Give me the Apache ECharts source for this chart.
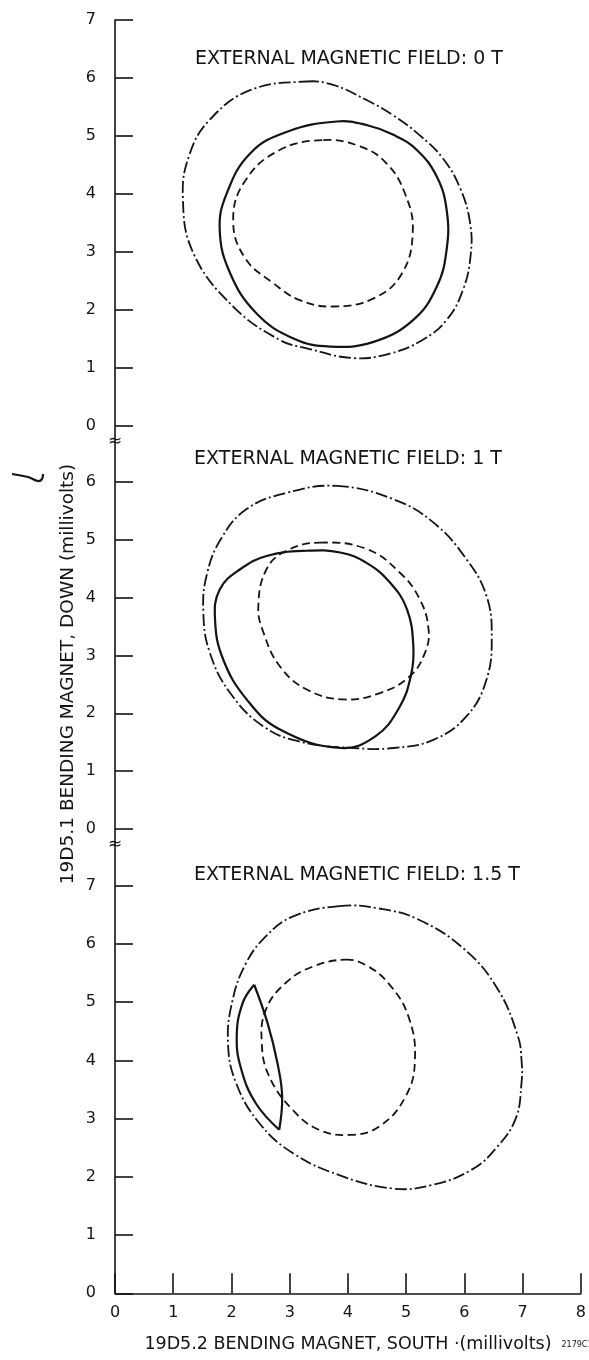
<!DOCTYPE html>
<html>
<head>
<meta charset="utf-8">
<script src="https://cdn.jsdelivr.net/npm/echarts@6/dist/echarts.min.js"></script>
<style>html,body{margin:0;padding:0;background:#fff}#c{width:589px;height:1360px}</style>
</head>
<body>
<div id="c"></div>
<script>
// ---- data (millivolts) ----
const xTicks = [0,1,2,3,4,5,6,7,8];
const yTicks7 = [0,1,2,3,4,5,6,7];
const yTicks6 = [0,1,2,3,4,5,6];
const panelTitles = ['EXTERNAL MAGNETIC FIELD: 0 T','EXTERNAL MAGNETIC FIELD: 1 T','EXTERNAL MAGNETIC FIELD: 1.5 T'];

// 0 T  (closed loops)
const field0DashDot = [[3.28,5.94],[3.73,5.88],[4.30,5.62],[4.75,5.36],[5.20,5.02],[5.60,4.62],[5.90,4.10],[6.07,3.50],[6.08,2.95],[5.95,2.35],[5.67,1.83],[5.25,1.48],[4.70,1.25],[4.07,1.17],[3.28,1.34],[2.82,1.48],[2.02,2.06],[1.34,2.98],[1.16,3.95],[1.28,4.70],[1.62,5.28],[2.31,5.79]];
const field0Solid = [[3.79,5.25],[4.30,5.19],[4.76,5.02],[5.16,4.76],[5.50,4.30],[5.67,3.72],[5.67,3.05],[5.50,2.40],[5.10,1.83],[4.42,1.45],[3.68,1.37],[3.05,1.51],[2.42,1.94],[1.97,2.63],[1.79,3.38],[1.91,4.01],[2.31,4.70],[2.93,5.07]];
const field0Dashed = [[3.56,4.93],[4.19,4.82],[4.64,4.53],[4.96,4.00],[5.09,3.35],[4.90,2.62],[4.42,2.20],[3.73,2.06],[3.16,2.17],[2.71,2.46],[2.22,2.90],[2.02,3.55],[2.22,4.22],[2.80,4.75]];

// 1 T
const field1DashDot = [[3.79,5.93],[4.76,5.70],[5.44,5.30],[6.01,4.66],[6.35,4.03],[6.44,3.33],[6.35,2.58],[6.01,1.95],[5.44,1.54],[4.76,1.40],[4.07,1.40],[3.16,1.51],[2.54,1.77],[1.97,2.35],[1.62,3.05],[1.51,3.74],[1.57,4.40],[1.82,5.03],[2.25,5.53],[2.93,5.81]];
const field1Solid = [[3.28,4.81],[3.85,4.78],[4.30,4.60],[4.70,4.26],[4.99,3.80],[5.10,3.16],[5.06,2.66],[4.86,2.10],[4.45,1.60],[3.85,1.40],[2.82,1.72],[2.25,2.24],[1.85,2.93],[1.71,3.62],[1.79,4.14],[2.14,4.49],[2.59,4.72]];
const field1Dashed = [[3.50,4.95],[4.30,4.84],[4.87,4.43],[5.21,3.97],[5.36,3.45],[5.30,3.05],[5.04,2.64],[4.53,2.35],[3.90,2.24],[3.28,2.41],[2.82,2.81],[2.54,3.39],[2.45,3.85],[2.59,4.49],[2.93,4.81]];

// 1.5 T
const field15DashDot = [[3.85,6.65],[4.53,6.61],[5.21,6.42],[6.01,5.90],[6.58,5.21],[6.92,4.41],[6.98,4.01],[6.98,3.61],[6.88,3.00],[6.55,2.50],[6.12,2.12],[5.44,1.86],[4.76,1.80],[3.85,2.03],[3.05,2.41],[2.48,2.92],[2.08,3.61],[1.94,4.30],[2.02,5.04],[2.25,5.67],[2.59,6.13],[3.05,6.47]];
const field15SolidLeft = [[2.39,5.30],[2.19,4.98],[2.09,4.41],[2.17,3.84],[2.42,3.26],[2.82,2.81]];
const field15SolidRight = [[2.82,2.81],[2.87,3.38],[2.79,3.95],[2.62,4.64],[2.39,5.30]];
const field15Dashed = [[3.96,5.73],[4.30,5.64],[4.70,5.32],[5.04,4.75],[5.15,4.01],[4.99,3.38],[4.53,2.86],[4.02,2.72],[3.50,2.81],[3.05,3.15],[2.65,3.72],[2.52,4.30],[2.59,4.87],[2.93,5.33],[3.39,5.61]];

// ---- chart ----
const INK = '#141414';
const FONT = 'DejaVu Sans';
const dashDot = [12,3,2,3];
const dashed = [8,4.5];

function yAxis(gi, min, max, ticks){
  return {
    type:'value', gridIndex:gi, min:min, max:max,
    axisLine:{show:true, lineStyle:{color:INK, width:1.6}},
    axisTick:{show:true, inside:true, length:18, customValues:ticks, lineStyle:{color:INK, width:1.6}},
    axisLabel:{show:true, customValues:ticks, margin:19, color:INK, fontFamily:FONT, fontSize:16},
    splitLine:{show:false}
  };
}
function xAxis(gi, show){
  return {
    type:'value', gridIndex:gi, min:0, max:8, interval:1, show:show,
    axisLine:{show:true, onZero:false, lineStyle:{color:INK, width:1.6}},
    axisTick:{show:true, inside:true, length:20, lineStyle:{color:INK, width:1.6}},
    axisLabel:{show:true, margin:12, color:INK, fontFamily:FONT, fontSize:16},
    splitLine:{show:false},
    name:'19D5.2 BENDING MAGNET, SOUTH ·(millivolts)',
    nameLocation:'middle', nameGap:42,
    nameTextStyle:{color:INK, fontFamily:FONT, fontSize:17.5}
  };
}
// curve through the points, drawn with the axes' coordinate transform
function loop(name, gi, pts, dash, width, closed){
  return {
    name:name, type:'custom', coordinateSystem:'cartesian2d',
    xAxisIndex:gi, yAxisIndex:gi, silent:true, data:pts,
    renderItem:function(params, api){
      if (params.dataIndex !== 0) return null;
      const points = pts.map(function(p){ return api.coord(p); });
      return {
        type: closed ? 'polygon' : 'polyline',
        shape:{points:points, smooth:0.42},
        style:{stroke:INK, lineWidth:width, fill:'none', lineDash:dash}
      };
    }
  };
}

const chart = echarts.init(document.getElementById('c'), null, {renderer:'canvas'});
const titleStyle = {color:INK, fontFamily:FONT, fontSize:19, fontWeight:'normal'};
chart.setOption({
  backgroundColor:'#fff',
  animation:false,
  title:[
    {text:panelTitles[0], left:344, top:45, textAlign:'center', textStyle:titleStyle},
    {text:panelTitles[1], left:343, top:445, textAlign:'center', textStyle:titleStyle},
    {text:panelTitles[2], left:352, top:861, textAlign:'center', textStyle:titleStyle}
  ],
  grid:[
    {left:115, right:6, top:20, height:422},
    {left:115, right:6, top:442, height:403},
    {left:115, right:6, top:845, height:448.3}
  ],
  xAxis:[xAxis(0,false), xAxis(1,false), xAxis(2,true)],
  yAxis:[yAxis(0,-0.276,7,yTicks7), yAxis(1,-0.277,6.69,yTicks6), yAxis(2,0,7.70,yTicks7)],
  series:[
    loop('0 T dash-dot',0,field0DashDot,dashDot,1.8,true),
    loop('0 T solid',0,field0Solid,null,2.2,true),
    loop('0 T dashed',0,field0Dashed,dashed,1.8,true),
    loop('1 T dash-dot',1,field1DashDot,dashDot,1.8,true),
    loop('1 T solid',1,field1Solid,null,2.2,true),
    loop('1 T dashed',1,field1Dashed,dashed,1.8,true),
    loop('1.5 T dash-dot',2,field15DashDot,dashDot,1.8,true),
    loop('1.5 T solid left',2,field15SolidLeft,null,2.2,false),
    loop('1.5 T solid right',2,field15SolidRight,null,2.2,false),
    loop('1.5 T dashed',2,field15Dashed,dashed,1.8,true)
  ],
  graphic:[
    {type:'text', x:68, y:674, rotation:Math.PI/2, style:{text:'19D5.1 BENDING MAGNET, DOWN (millivolts)', fill:INK, font:'18.5px "DejaVu Sans"', align:'center', verticalAlign:'middle'}},
    {type:'text', x:115, y:442, style:{text:'≈', fill:INK, font:'17px "DejaVu Sans"', align:'center', verticalAlign:'middle'}},
    {type:'text', x:115, y:845, style:{text:'≈', fill:INK, font:'17px "DejaVu Sans"', align:'center', verticalAlign:'middle'}},
    {type:'text', x:577, y:1345, style:{text:'2179C1', fill:INK, font:'8px "DejaVu Sans"', align:'center', verticalAlign:'middle'}},
    {type:'polyline', shape:{points:[[12,474],[28,477],[38,481],[42,479],[43,474]], smooth:0.4}, style:{stroke:INK, lineWidth:2.2, fill:null}}
  ]
});
</script>
</body>
</html>
